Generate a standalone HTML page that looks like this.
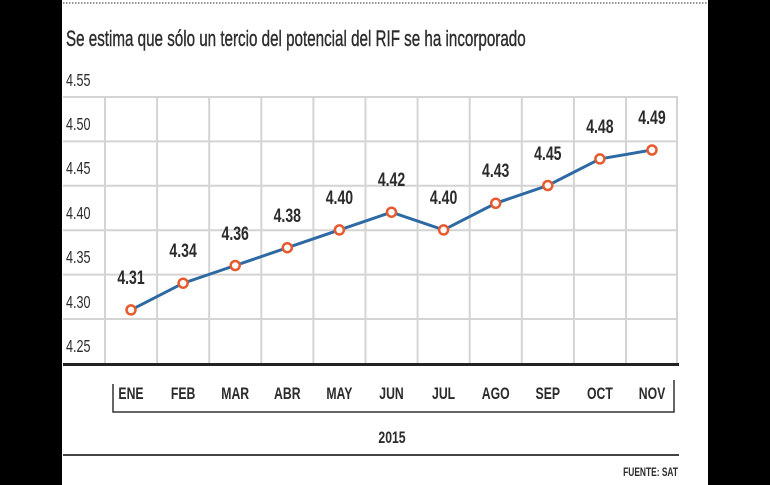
<!DOCTYPE html>
<html><head><meta charset="utf-8"><style>
html,body{margin:0;padding:0;background:#000;}
svg{display:block}
text{font-family:"Liberation Sans",sans-serif;font-weight:bold;fill:#2b2b2b}
text.n{font-weight:normal}
</style></head><body>
<svg width="770" height="485" viewBox="0 0 770 485" xmlns="http://www.w3.org/2000/svg">
<rect x="0" y="0" width="770" height="485" fill="#000"/>
<rect x="62" y="0" width="646" height="485" fill="#fff"/>
<line x1="63" y1="3" x2="707" y2="3" stroke="#999" stroke-width="2" stroke-dasharray="1.5,1.5"/>
<text class="n" x="66" y="46" font-size="22" transform="translate(66 0) scale(0.69 1) translate(-66 0)" fill="#333" stroke="#333" stroke-width="0.4">Se estima que sólo un tercio del potencial del RIF se ha incorporado</text>
<g stroke="#d4d4d4" stroke-width="2">
<line x1="63" y1="97" x2="678" y2="97"/>
<line x1="63" y1="141.4" x2="678" y2="141.4"/>
<line x1="63" y1="185.8" x2="678" y2="185.8"/>
<line x1="63" y1="230.2" x2="678" y2="230.2"/>
<line x1="63" y1="274.6" x2="678" y2="274.6"/>
<line x1="63" y1="319" x2="678" y2="319"/>
<line x1="105" y1="97" x2="105" y2="363"/>
<line x1="157.1" y1="97" x2="157.1" y2="363"/>
<line x1="209.2" y1="97" x2="209.2" y2="363"/>
<line x1="261.3" y1="97" x2="261.3" y2="363"/>
<line x1="313.4" y1="97" x2="313.4" y2="363"/>
<line x1="365.5" y1="97" x2="365.5" y2="363"/>
<line x1="417.6" y1="97" x2="417.6" y2="363"/>
<line x1="469.7" y1="97" x2="469.7" y2="363"/>
<line x1="521.8" y1="97" x2="521.8" y2="363"/>
<line x1="573.9" y1="97" x2="573.9" y2="363"/>
<line x1="626" y1="97" x2="626" y2="363"/>
<line x1="677" y1="97" x2="677" y2="363"/>
</g>
<line x1="63" y1="364.5" x2="679" y2="364.5" stroke="#222" stroke-width="3"/>
<g font-size="18" fill="#444">
<text class="n" x="66" y="86" transform="translate(66 0) scale(0.7 1) translate(-66 0)">4.55</text>
<text class="n" x="66" y="130" transform="translate(66 0) scale(0.7 1) translate(-66 0)">4.50</text>
<text class="n" x="66" y="174" transform="translate(66 0) scale(0.7 1) translate(-66 0)">4.45</text>
<text class="n" x="66" y="219" transform="translate(66 0) scale(0.7 1) translate(-66 0)">4.40</text>
<text class="n" x="66" y="263" transform="translate(66 0) scale(0.7 1) translate(-66 0)">4.35</text>
<text class="n" x="66" y="308" transform="translate(66 0) scale(0.7 1) translate(-66 0)">4.30</text>
<text class="n" x="66" y="352" transform="translate(66 0) scale(0.7 1) translate(-66 0)">4.25</text>
</g>
<polyline fill="none" stroke="#2d6aa3" stroke-width="3" points="131,309.9 183.1,283.2 235.2,265.5 287.3,247.7 339.4,229.9 391.5,212.2 443.6,229.9 495.7,203.3 547.8,185.5 599.9,158.9 652,150"/>
<g fill="#fff" stroke="#e65a2e" stroke-width="2.5">
<circle cx="131" cy="309.9" r="4.5"/><circle cx="183.1" cy="283.2" r="4.5"/><circle cx="235.2" cy="265.5" r="4.5"/><circle cx="287.3" cy="247.7" r="4.5"/><circle cx="339.4" cy="229.9" r="4.5"/><circle cx="391.5" cy="212.2" r="4.5"/><circle cx="443.6" cy="229.9" r="4.5"/><circle cx="495.7" cy="203.3" r="4.5"/><circle cx="547.8" cy="185.5" r="4.5"/><circle cx="599.9" cy="158.9" r="4.5"/><circle cx="652" cy="150" r="4.5"/>
</g>
<g font-size="19" text-anchor="middle">
<text x="131" y="284" transform="translate(131 0) scale(0.74 1) translate(-131 0)">4.31</text>
<text x="183.1" y="257" transform="translate(183.1 0) scale(0.74 1) translate(-183.1 0)">4.34</text>
<text x="235.2" y="240" transform="translate(235.2 0) scale(0.74 1) translate(-235.2 0)">4.36</text>
<text x="287.3" y="222" transform="translate(287.3 0) scale(0.74 1) translate(-287.3 0)">4.38</text>
<text x="339.4" y="204" transform="translate(339.4 0) scale(0.74 1) translate(-339.4 0)">4.40</text>
<text x="391.5" y="186" transform="translate(391.5 0) scale(0.74 1) translate(-391.5 0)">4.42</text>
<text x="443.6" y="204" transform="translate(443.6 0) scale(0.74 1) translate(-443.6 0)">4.40</text>
<text x="495.7" y="177" transform="translate(495.7 0) scale(0.74 1) translate(-495.7 0)">4.43</text>
<text x="547.8" y="160" transform="translate(547.8 0) scale(0.74 1) translate(-547.8 0)">4.45</text>
<text x="599.9" y="133" transform="translate(599.9 0) scale(0.74 1) translate(-599.9 0)">4.48</text>
<text x="652" y="124" transform="translate(652 0) scale(0.74 1) translate(-652 0)">4.49</text>
</g>
<g font-size="17" text-anchor="middle" fill="#333">
<text x="131" y="399" transform="translate(131 0) scale(0.72 1) translate(-131 0)">ENE</text>
<text x="183.1" y="399" transform="translate(183.1 0) scale(0.72 1) translate(-183.1 0)">FEB</text>
<text x="235.2" y="399" transform="translate(235.2 0) scale(0.72 1) translate(-235.2 0)">MAR</text>
<text x="287.3" y="399" transform="translate(287.3 0) scale(0.72 1) translate(-287.3 0)">ABR</text>
<text x="339.4" y="399" transform="translate(339.4 0) scale(0.72 1) translate(-339.4 0)">MAY</text>
<text x="391.5" y="399" transform="translate(391.5 0) scale(0.72 1) translate(-391.5 0)">JUN</text>
<text x="443.6" y="399" transform="translate(443.6 0) scale(0.72 1) translate(-443.6 0)">JUL</text>
<text x="495.7" y="399" transform="translate(495.7 0) scale(0.72 1) translate(-495.7 0)">AGO</text>
<text x="547.8" y="399" transform="translate(547.8 0) scale(0.72 1) translate(-547.8 0)">SEP</text>
<text x="599.9" y="399" transform="translate(599.9 0) scale(0.72 1) translate(-599.9 0)">OCT</text>
<text x="652" y="399" transform="translate(652 0) scale(0.72 1) translate(-652 0)">NOV</text>
<text x="392" y="443" transform="translate(392 0) scale(0.72 1) translate(-392 0)">2015</text>
</g>
<polyline fill="none" stroke="#333" stroke-width="1.5" points="113,384 113,412 674,412 674,380"/>
<line x1="63" y1="455" x2="679" y2="455" stroke="#444" stroke-width="2"/>
<text x="678" y="476" font-size="12" text-anchor="end" fill="#333" transform="translate(678 0) scale(0.7 1) translate(-678 0)">FUENTE: SAT</text>
</svg>
</body></html>
